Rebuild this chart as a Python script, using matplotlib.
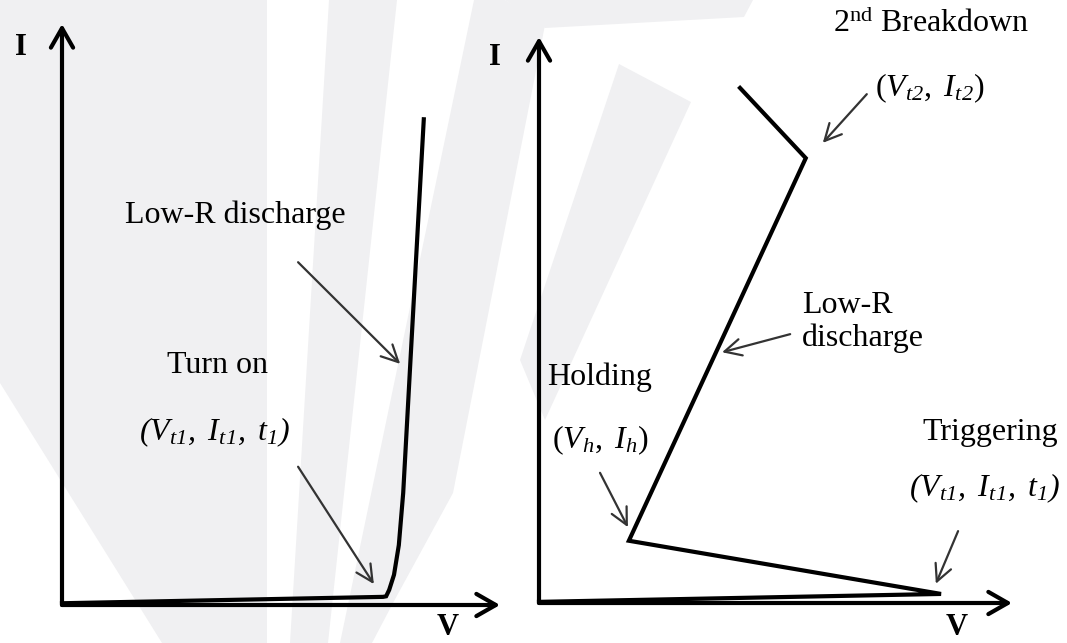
import matplotlib
matplotlib.use("Agg")
import matplotlib.pyplot as plt
from matplotlib.patches import Polygon

plt.rcParams["font.family"] = ["Liberation Serif", "DejaVu Serif"]
plt.rcParams["mathtext.fontset"] = "custom"
plt.rcParams["mathtext.rm"] = "Liberation Serif"
plt.rcParams["mathtext.it"] = "Liberation Serif:italic"
plt.rcParams["mathtext.sf"] = "Liberation Serif:italic"
plt.rcParams["mathtext.bf"] = "Liberation Serif:bold"

# snapback-free device: flat leakage, then sharp turn-on
diode_v = [0.0, 7.33, 7.40, 7.47, 7.58, 7.69, 7.79, 7.95, 8.26]
diode_i = [0.03, 0.14, 0.15, 0.26, 0.52, 1.03, 1.93, 4.13, 8.36]

# snapback device: trigger -> holding -> low-R branch -> 2nd breakdown
snap_v = [0.0, 8.50, 1.90, 5.64, 4.25]
snap_i = [0.02, 0.16, 1.10, 7.86, 9.10]

# (text, text position, arrow start, arrow tip)
diode_notes = [
    ("Low-R discharge", (3.95, 6.71), (5.39, 5.90), (7.72, 4.15)),
    ("Turn on", (3.54, 4.13), None, None),
    (r"$\mathsf{(V_{t1},\ I_{t1},\ t_1)}$", (3.49, 2.98), (5.39, 2.38), (7.12, 0.36)),
]
snap_notes = [
    (r"2$^{\mathrm{nd}}$ Breakdown", (8.29, 10.23), None, None),
    (r"$(\mathsf{V_{t2}},\ \mathsf{I_{t2}})$", (8.25, 9.10), (6.93, 8.99), (6.00, 8.13)),
    ("Low-R\ndischarge", (5.56, 4.97), (5.31, 4.75), (3.87, 4.43)),
    ("Holding", (1.29, 3.98), None, None),
    (r"$(\mathsf{V_h},\ \mathsf{I_h})$", (1.29, 2.88), (1.29, 2.30), (1.88, 1.34)),
    ("Triggering", (9.53, 3.02), None, None),
    (r"$\mathsf{(V_{t1},\ I_{t1},\ t_1)}$", (9.43, 2.03), (8.86, 1.27), (8.39, 0.34)),
]

W, H = 1067, 643
fig = plt.figure(figsize=(W / 100, H / 100), dpi=100)

# faint watermark shapes behind everything
bg = fig.add_axes([0, 0, 1, 1])
bg.set_xlim(0, W)
bg.set_ylim(H, 0)
bg.axis("off")
shapes = [
    [(0, 0), (267, 0), (267, 643), (162, 643), (0, 383)],
    [(329, 0), (397, 0), (328, 643), (290, 643)],
    [(474, 0), (505, 0), (545, 25), (453, 493), (393, 603), (372, 643), (340, 643)],
    [(505, 0), (753, 0), (744, 17), (545, 28)],
    [(619, 64), (691, 102), (545, 420), (520, 360)],
]
for s in shapes:
    bg.add_patch(Polygon(s, closed=True, facecolor="#f0f0f2", edgecolor="none"))


def panel(rect, v, i, notes, ilab, vlab):
    ax = fig.add_axes(rect)
    ax.set_xlim(0, 10)
    ax.set_ylim(0, 10)
    ax.axis("off")
    ax.patch.set_alpha(0)
    axis_arrow = dict(arrowstyle="->, head_length=0.7, head_width=0.4",
                      lw=3, color="black", shrinkA=0, shrinkB=0, mutation_scale=20)
    ax.annotate("", xy=(10, 0), xytext=(0, 0), arrowprops=axis_arrow, annotation_clip=False)
    ax.annotate("", xy=(0, 10), xytext=(0, 0), arrowprops=axis_arrow, annotation_clip=False)
    ax.text(ilab[0], ilab[1], "I", fontsize=22, fontweight="bold", ha="center", va="center")
    ax.text(vlab[0], vlab[1], "V", fontsize=22, fontweight="bold", ha="center", va="center")
    ax.plot(v, i, color="black", lw=3, solid_joinstyle="miter", clip_on=False)
    for txt, pos, start, tip in notes:
        if "\n" in txt:
            ax.text(pos[0], pos[1], txt, fontsize=23, ha="left", va="center",
                    linespacing=1.15)
        else:
            ax.text(pos[0], pos[1], txt, fontsize=23, ha="center", va="center")
        if start is not None:
            ax.annotate("", xy=tip, xytext=start, annotation_clip=False,
                        arrowprops=dict(arrowstyle="->, head_length=0.6, head_width=0.3",
                                        lw=1.6, color="#333333", shrinkA=0, shrinkB=0,
                                        mutation_scale=20))
    return ax


panel([62 / W, (H - 605) / H, 438 / W, 581 / H], diode_v, diode_i, diode_notes,
      (-0.94, 9.59), (8.81, -0.38))
panel([539 / W, (H - 603) / H, 473 / W, 566 / H], snap_v, snap_i, snap_notes,
      (-0.93, 9.63), (8.84, -0.43))

fig.savefig("out.png", dpi=100)
